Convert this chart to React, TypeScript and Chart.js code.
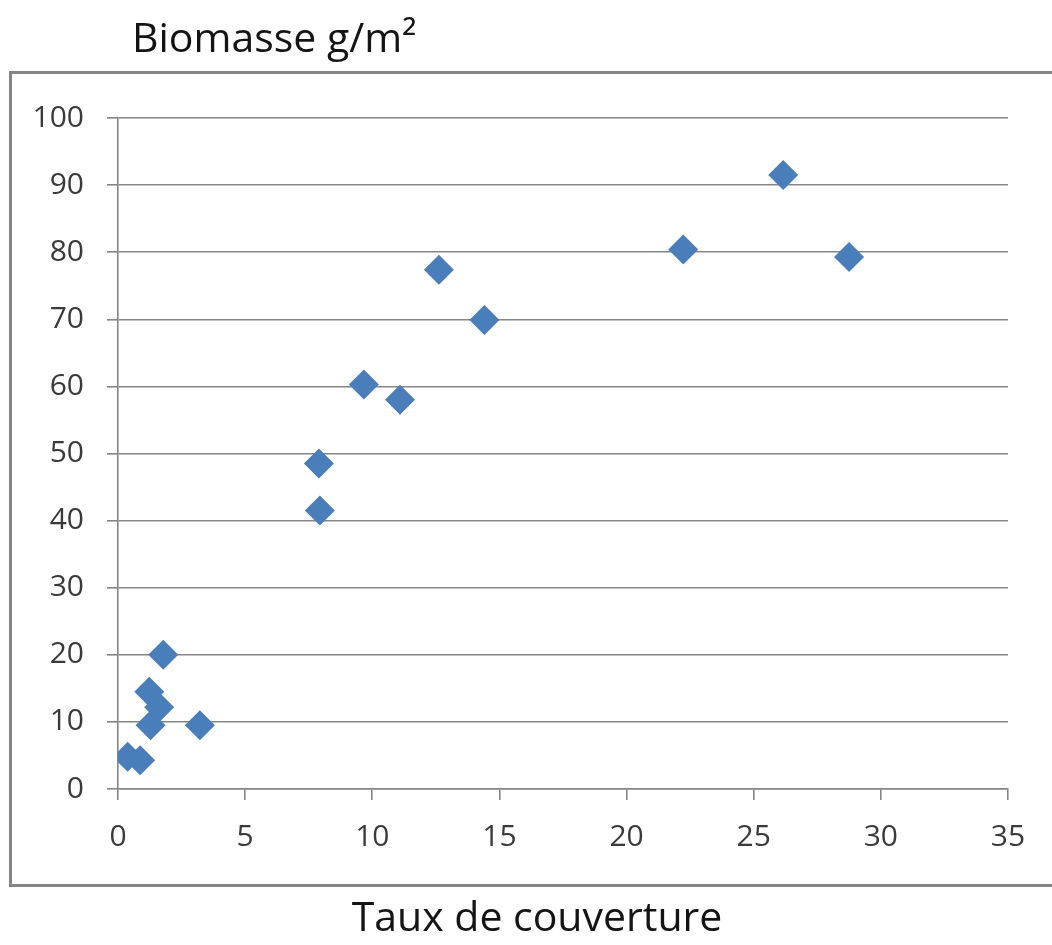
import React, { useEffect, useRef } from "react";
import { Chart, registerables } from "chart.js";

Chart.register(...registerables);

// Taux de couverture (%) vs biomasse (g/m²)
const coverRate = [1.78, 1.23, 1.62, 1.28, 3.22, 0.38, 0.87, 7.9, 7.94, 9.67, 11.09, 12.62, 14.41, 22.23, 26.16, 28.75];
const biomass = [20.0, 14.5, 12.2, 9.5, 9.5, 4.8, 4.3, 48.5, 41.5, 60.3, 58.0, 77.4, 69.9, 80.4, 91.5, 79.3];

const xTicks = [0, 5, 10, 15, 20, 25, 30, 35];
const yTicks = [0, 10, 20, 30, 40, 50, 60, 70, 80, 90, 100];

const yTitle = "Biomasse g/m²";
const xTitle = "Taux de couverture";

const FONT = "'Open Sans', 'Noto Sans', sans-serif";

// Outer frame around the plot plus the two axis captions
const framePlugin = {
  id: "frame",
  beforeDraw(chart: Chart) {
    const { ctx, width } = chart;
    ctx.save();
    ctx.fillStyle = "#ffffff";
    ctx.fillRect(0, 0, width, chart.height);
    ctx.strokeStyle = "#858585";
    ctx.lineWidth = 3;
    ctx.strokeRect(10.5, 72.5, width + 20, 813);
    ctx.restore();
  },
  afterDraw(chart: Chart) {
    const { ctx } = chart;
    ctx.save();
    ctx.fillStyle = "#141414";
    ctx.textBaseline = "alphabetic";
    ctx.font = `41px ${FONT}`;
    ctx.textAlign = "left";
    ctx.fillText(yTitle, 132, 52);
    ctx.font = `41px ${FONT}`;
    ctx.textAlign = "center";
    ctx.fillText(xTitle, 537, 931);
    ctx.restore();
  },
};

export default function App() {
  const canvasRef = useRef<HTMLCanvasElement | null>(null);

  useEffect(() => {
    const canvas = canvasRef.current;
    if (!canvas) return;
    const points = coverRate.map((x, i) => ({ x, y: biomass[i] }));
    const chart = new Chart(canvas, {
      type: "scatter",
      data: {
        datasets: [
          {
            label: yTitle,
            data: points,
            pointStyle: "rectRot",
            pointRadius: 15,
            pointHoverRadius: 15,
            backgroundColor: "#4a7ebb",
            borderColor: "#4a7ebb",
            borderWidth: 0,
          },
        ],
      },
      options: {
        responsive: false,
        animation: false,
        devicePixelRatio: 1,
        layout: { padding: { left: 10, top: 118, right: 44, bottom: 96 } },
        plugins: {
          legend: { display: false },
          tooltip: { enabled: false },
          title: { display: false },
        },
        scales: {
          x: {
            type: "linear",
            min: 0,
            max: 35,
            afterBuildTicks(scale: any) {
              scale.ticks = xTicks.map((v) => ({ value: v }));
            },
            afterFit(scale: any) {
              scale.height = 60;
            },
            grid: {
              drawOnChartArea: false,
              drawTicks: true,
              tickLength: 11,
              color: "#858585",
              lineWidth: 1.6,
            },
            border: { display: true, color: "#858585", width: 1.6 },
            ticks: {
              color: "#3a3a3a",
              font: { family: FONT, size: 30 },
              padding: 19,
              maxRotation: 0,
            },
          },
          y: {
            type: "linear",
            min: 0,
            max: 100,
            afterBuildTicks(scale: any) {
              scale.ticks = yTicks.map((v) => ({ value: v }));
            },
            afterFit(scale: any) {
              scale.width = 108;
            },
            grid: {
              drawOnChartArea: true,
              drawTicks: true,
              tickLength: 11,
              color: "#858585",
              lineWidth: 1.6,
            },
            border: { display: true, color: "#858585", width: 1.6 },
            ticks: {
              color: "#3a3a3a",
              font: { family: FONT, size: 30 },
              padding: 23,
            },
          },
        },
      },
      plugins: [framePlugin],
    });
    return () => chart.destroy();
  }, []);

  return (
    <div
      style={{
        position: "absolute",
        left: 0,
        top: 0,
        width: 1052,
        height: 945,
        background: "#ffffff",
      }}
    >
      <canvas ref={canvasRef} width={1052} height={945} />
    </div>
  );
}
